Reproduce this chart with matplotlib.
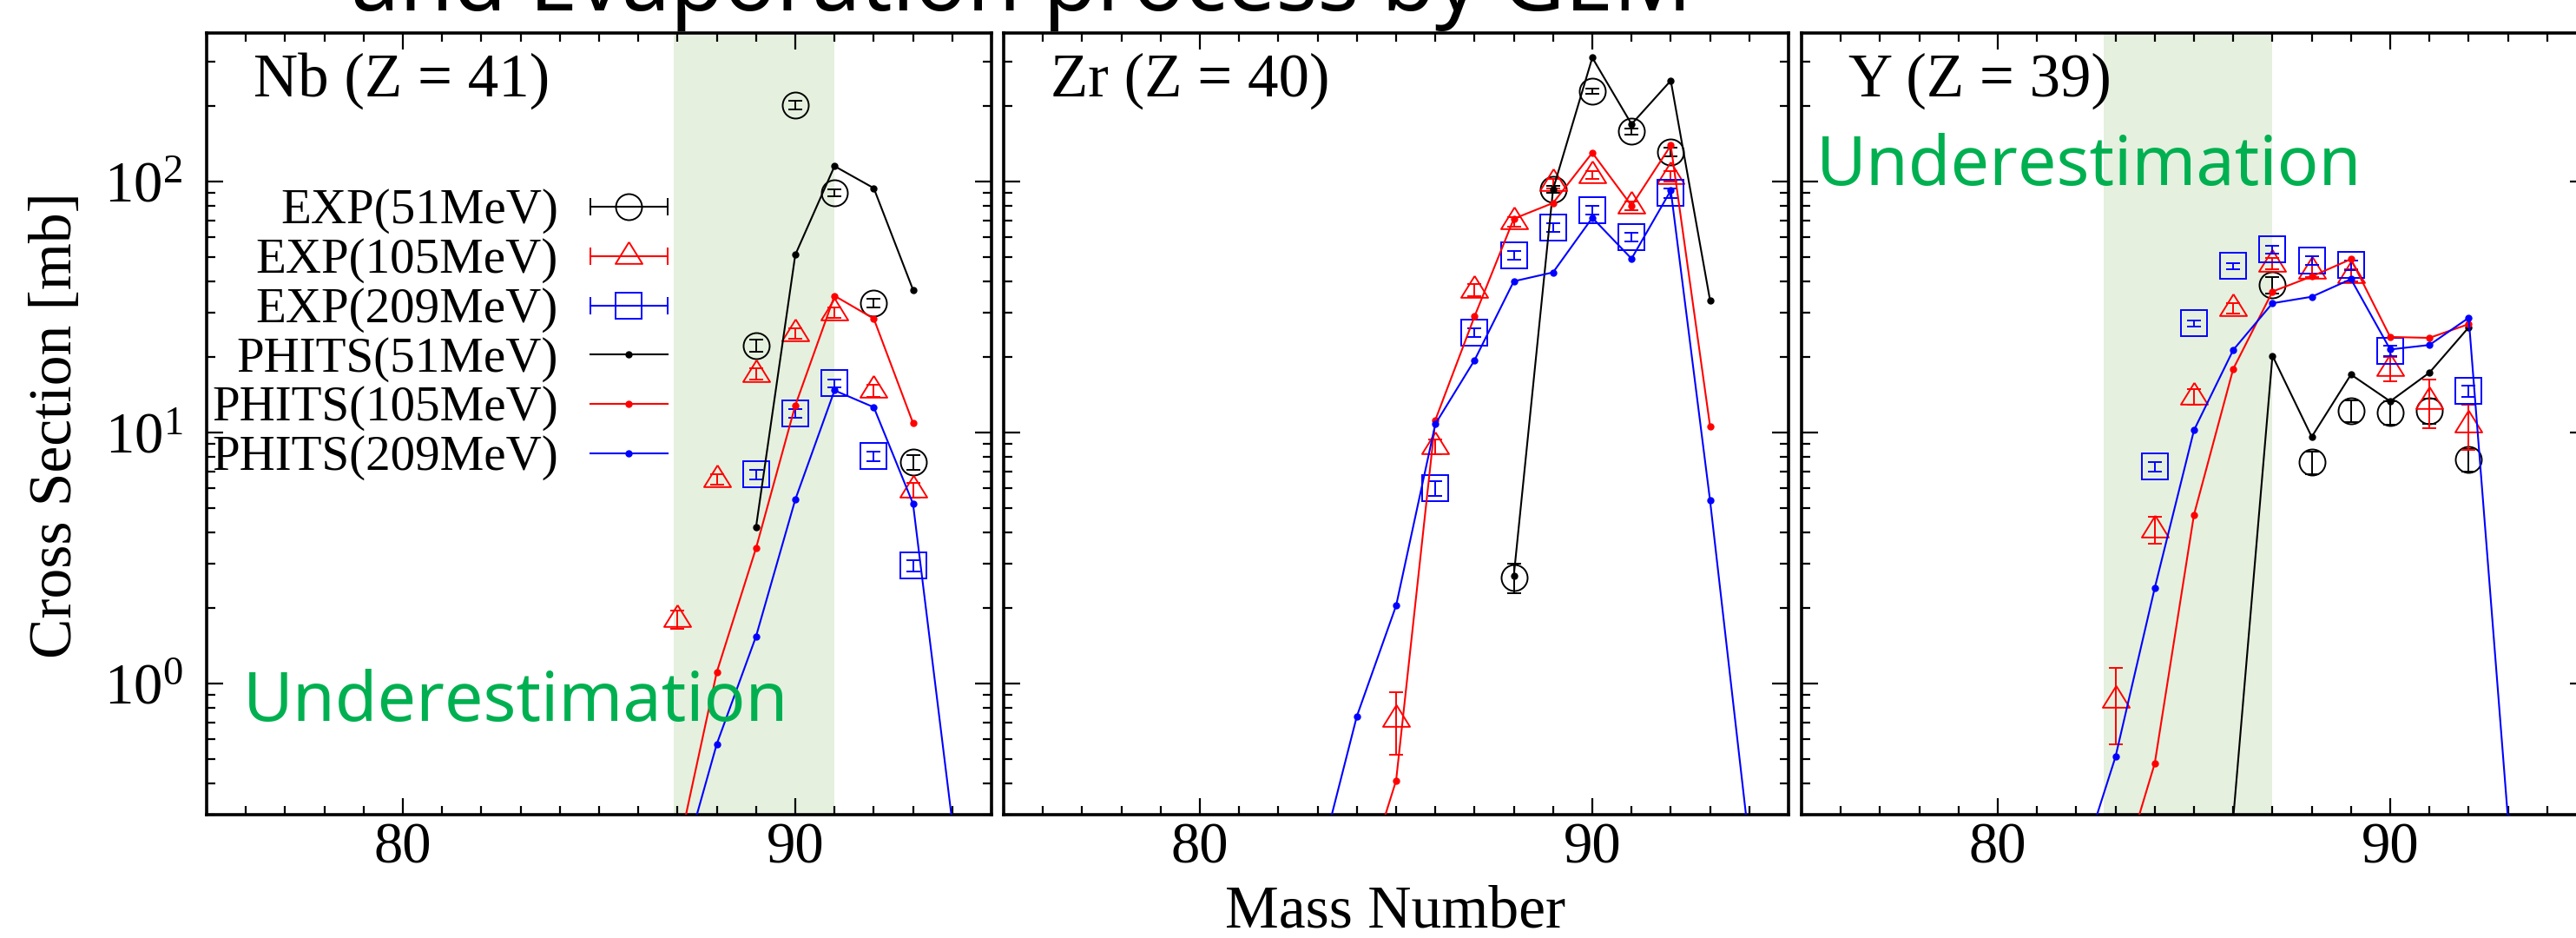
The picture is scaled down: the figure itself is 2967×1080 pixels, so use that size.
import matplotlib
matplotlib.use('Agg')
import matplotlib.pyplot as plt
from matplotlib.ticker import MultipleLocator, LogLocator, NullFormatter
import numpy as np

plt.rcParams['font.family'] = ['Liberation Serif', 'DejaVu Serif']
plt.rcParams['mathtext.fontset'] = 'custom'
plt.rcParams['mathtext.rm'] = 'Liberation Serif'
plt.rcParams['mathtext.it'] = 'Liberation Serif:italic'
plt.rcParams['mathtext.bf'] = 'Liberation Serif:bold'

# ---- Nb (Z = 41) ----
nb_exp51_A = [89, 90, 91, 92, 93]
nb_exp51 = [22.2, 202, 90, 32.8, 7.6]
nb_exp51_err = [1.2, 8, 3, 1.3, 0.5]
nb_exp105_A = [87, 88, 89, 90, 91, 92, 93]
nb_exp105 = [1.8, 6.5, 17.1, 24.8, 30, 14.7, 5.9]
nb_exp105_err = [0.15, 0.3, 0.9, 1.2, 1.5, 0.8, 0.4]
nb_exp209_A = [89, 90, 91, 92, 93]
nb_exp209 = [6.8, 11.9, 15.7, 8.05, 2.95]
nb_exp209_err = [0.3, 0.5, 0.6, 0.35, 0.15]
nb_phits51_A = [89, 90, 91, 92, 93]
nb_phits51 = [4.2, 51, 115, 94, 37]
nb_phits105_A = [87, 88, 89, 90, 91, 92, 93]
nb_phits105 = [0.21, 1.11, 3.46, 12.8, 35, 28.4, 10.9]
nb_phits209_A = [87, 88, 89, 90, 91, 92, 93, 94]
nb_phits209 = [0.16, 0.574, 1.54, 5.4, 14.7, 12.6, 5.2, 0.28]

# ---- Zr (Z = 40) ----
zr_exp51_A = [88, 89, 90, 91, 92]
zr_exp51 = [2.64, 93, 229, 158, 131]
zr_exp51_err = [0.35, 3, 6, 5, 5]
zr_exp105_A = [85, 86, 87, 88, 89, 90, 91, 92]
zr_exp105 = [0.72, 8.8, 37, 69, 98, 106, 80, 105]
zr_exp105_err = [0.2, 0.6, 2, 3, 4, 4, 3, 5]
zr_exp209_A = [86, 87, 88, 89, 90, 91, 92]
zr_exp209 = [6.0, 25, 50.6, 65.5, 77, 60, 90]
zr_exp209_err = [0.4, 1, 2, 2.5, 3, 2.5, 4]
zr_phits51_A = [88, 89, 90, 91, 92, 93]
zr_phits51 = [2.69, 93, 311, 169, 252, 33.6]
zr_phits105_A = [84, 85, 86, 87, 88, 89, 90, 91, 92, 93]
zr_phits105 = [0.13, 0.41, 11.2, 29, 71, 82, 130, 80, 139, 10.6]
zr_phits209_A = [83, 84, 85, 86, 87, 88, 89, 90, 91, 92, 93, 94]
zr_phits209 = [0.18, 0.74, 2.04, 10.8, 19.4, 40, 43.4, 71.6, 49.2, 92, 5.36, 0.23]

# ---- Y (Z = 39) ----
y_exp51_A = [87, 88, 89, 90, 91, 92]
y_exp51 = [38.7, 7.6, 12.2, 12.0, 12.2, 7.8]
y_exp51_err = [3, 0.8, 1.2, 1.3, 1.4, 0.8]
y_exp105_A = [83, 84, 85, 86, 87, 88, 89, 90, 91, 92]
y_exp105 = [0.86, 4.1, 13.9, 31.3, 47, 44, 42.3, 18.0, 13.3, 10.7]
y_exp105_err = [0.29, 0.5, 1.0, 1.5, 2.5, 2.5, 2.5, 2.0, 2.9, 2.2]
y_exp209_A = [84, 85, 86, 87, 88, 89, 90, 92]
y_exp209 = [7.3, 27.2, 46, 53.5, 48.4, 46.4, 21.1, 14.6]
y_exp209_err = [0.3, 0.8, 1.2, 2, 2, 2, 1, 0.8]
y_phits51_A = [86, 87, 88, 89, 90, 91, 92]
y_phits51 = [0.29, 20.2, 9.6, 17.0, 13.3, 17.3, 26.2]
y_phits105_A = [83, 84, 85, 86, 87, 88, 89, 90, 91, 92]
y_phits105 = [0.145, 0.48, 4.7, 17.9, 36.4, 41.8, 49, 24, 23.8, 27]
y_phits209_A = [82, 83, 84, 85, 86, 87, 88, 89, 90, 91, 92, 93]
y_phits209 = [0.165, 0.51, 2.4, 10.2, 21.3, 32.7, 34.7, 40.8, 21.4, 22.3, 28.6, 0.29]

panel_labels = ['Nb (Z = 41)', 'Zr (Z = 40)', 'Y (Z = 39)']
legend_labels = ['EXP(51MeV)', 'EXP(105MeV)', 'EXP(209MeV)',
                 'PHITS(51MeV)', 'PHITS(105MeV)', 'PHITS(209MeV)']

colors = ['black', '#ff0000', '#0000ff']
tri = [(0, 1), (-0.93, -0.5), (0.93, -0.5), (0, 1)]
markers = ['o', tri, 's']
msizes = [21.6, 24, 21.6]
shade_col = '#e5f0df'
green = '#00b050'

W, H = 2967, 1080
fig = plt.figure(figsize=(W / 100, H / 100), dpi=100)
lefts = [238, 1156, 2075]
axes = [fig.add_axes([l / W, (H - 938) / H, 904 / W, 900 / H]) for l in lefts]

panels = [
    ([(nb_exp51_A, nb_exp51, nb_exp51_err), (nb_exp105_A, nb_exp105, nb_exp105_err),
      (nb_exp209_A, nb_exp209, nb_exp209_err)],
     [(nb_phits51_A, nb_phits51), (nb_phits105_A, nb_phits105), (nb_phits209_A, nb_phits209)],
     (86.9, 91.0)),
    ([(zr_exp51_A, zr_exp51, zr_exp51_err), (zr_exp105_A, zr_exp105, zr_exp105_err),
      (zr_exp209_A, zr_exp209, zr_exp209_err)],
     [(zr_phits51_A, zr_phits51), (zr_phits105_A, zr_phits105), (zr_phits209_A, zr_phits209)],
     None),
    ([(y_exp51_A, y_exp51, y_exp51_err), (y_exp105_A, y_exp105, y_exp105_err),
      (y_exp209_A, y_exp209, y_exp209_err)],
     [(y_phits51_A, y_phits51), (y_phits105_A, y_phits105), (y_phits209_A, y_phits209)],
     (82.7, 87.0)),
]

for i, (ax, (exp, phits, shade)) in enumerate(zip(axes, panels)):
    if shade:
        ax.axvspan(shade[0], shade[1], color=shade_col, lw=0, zorder=0)
    for (A, v, e), c, m, ms in zip(exp, colors, markers, msizes):
        ax.errorbar(A, v, yerr=e, fmt='none', ecolor=c, elinewidth=1.4,
                    capsize=6, capthick=1.4, zorder=3)
        ax.plot(A, v, ls='none', marker=m, ms=ms, mfc='none', mec=c, mew=1.4, zorder=3)
    for (A, v), c in zip(phits, colors):
        ax.plot(A, v, '-', color=c, lw=1.5, marker='o', ms=5, zorder=4)

    ax.set_yscale('log')
    ax.set_xlim(75, 95)
    ax.set_ylim(0.3, 390)
    ax.xaxis.set_major_locator(MultipleLocator(10))
    ax.xaxis.set_minor_locator(MultipleLocator(1))
    ax.yaxis.set_major_locator(LogLocator(base=10))
    ax.yaxis.set_minor_locator(LogLocator(base=10, subs=np.arange(2, 10)))
    ax.yaxis.set_minor_formatter(NullFormatter())
    ax.tick_params(which='both', direction='in', top=True, right=True, width=1.6)
    ax.tick_params(which='major', length=14, labelsize=48)
    ax.tick_params(which='minor', length=7)
    ax.tick_params(axis='x', pad=6)
    ax.tick_params(axis='y', pad=20)
    if i > 0:
        ax.tick_params(labelleft=False)
    for sp in ax.spines.values():
        sp.set_linewidth(2.6)
    ax.text(0.06, 0.975, panel_labels[i], transform=ax.transAxes,
            ha='left', va='top', fontsize=51)

# legend, gnuplot style, inside the first panel
ax = axes[0]
x0, x1, xm = 0.489, 0.587, 0.538
for k, lab in enumerate(legend_labels):
    yr = 0.778 - 0.0632 * k
    ax.text(0.448, yr - 0.021, lab, transform=ax.transAxes, ha='right',
            va='baseline', fontsize=41, zorder=6)
    c = colors[k % 3]
    ax.plot([x0, x1], [yr, yr], color=c, lw=1.5, transform=ax.transAxes, zorder=6)
    if k < 3:
        ax.plot([x0, x1], [yr, yr], ls='none', marker='|', ms=15, mew=1.4,
                color=c, transform=ax.transAxes, zorder=6)
        ax.plot([xm], [yr], ls='none', marker=markers[k], ms=msizes[k], mfc='none',
                mec=c, mew=1.4, transform=ax.transAxes, zorder=6)
    else:
        ax.plot([xm], [yr], ls='none', marker='o', ms=5, color=c,
                transform=ax.transAxes, zorder=6)

axes[0].text(0.046, 0.12, 'Underestimation', transform=axes[0].transAxes,
             ha='left', va='baseline', fontsize=57, color=green,
             family=['Noto Sans', 'DejaVu Sans'], zorder=7)
axes[2].text(0.019, 0.806, 'Underestimation', transform=axes[2].transAxes,
             ha='left', va='baseline', fontsize=57, color=green,
             family=['Noto Sans', 'DejaVu Sans'], zorder=7)

fig.text(65 / W, 1 - 490 / H, 'Cross Section [mb]', rotation=90,
         ha='center', va='center', fontsize=50)
fig.text(1607 / W, 1 - 1068 / H, 'Mass Number', ha='center', va='baseline', fontsize=50)

# slide title, mostly cut off at the top edge
fig.text(404 / W, 1 - 12 / H, 'and Evaporation process by GEM', ha='left',
         va='baseline', fontsize=72, family=['Noto Sans', 'DejaVu Sans'])

fig.savefig('out.png', dpi=100)
